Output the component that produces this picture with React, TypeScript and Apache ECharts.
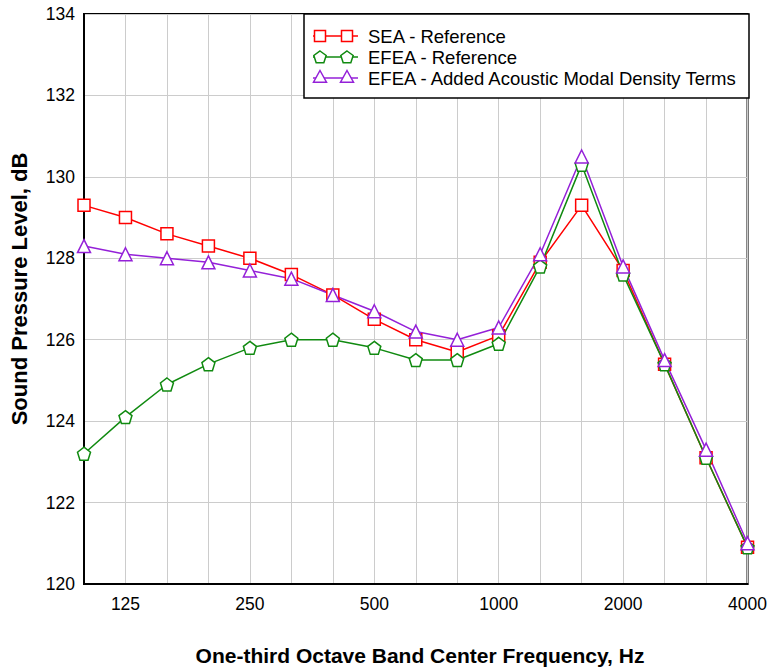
import React, { useEffect, useRef } from "react";
import * as echarts from "echarts";

const frequencies = ["100", "125", "160", "200", "250", "315", "400", "500", "630", "800", "1000", "1250", "1600", "2000", "2500", "3150", "4000"];
const labeledFrequencies = ["125", "250", "500", "1000", "2000", "4000"];
const seaReference = [129.3, 129.0, 128.6, 128.3, 128.0, 127.6, 127.1, 126.5, 126.0, 125.7, 126.1, 127.9, 129.3, 127.7, 125.4, 123.1, 120.9];
const efeaReference = [123.2, 124.1, 124.9, 125.4, 125.8, 126.0, 126.0, 125.8, 125.5, 125.5, 125.9, 127.8, 130.3, 127.6, 125.4, 123.1, 120.9];
const efeaAdded = [128.3, 128.1, 128.0, 127.9, 127.7, 127.5, 127.1, 126.7, 126.2, 126.0, 126.3, 128.1, 130.5, 127.8, 125.5, 123.3, 121.0];
const seriesNames = ["SEA - Reference", "EFEA - Reference", "EFEA - Added Acoustic Modal Density Terms"];

const RED = "#ff0000";
const GREEN = "#108a10";
const PURPLE = "#9420d8";
const FONT = "Liberation Sans, Arial, sans-serif";
const PENTAGON = "path://M0,-1L0.951,-0.309L0.588,0.809L-0.588,0.809L-0.951,-0.309Z";

function pentagonPoints(cx: number, cy: number, r: number) {
  const pts: number[][] = [];
  for (let i = 0; i < 5; i++) {
    const a = -Math.PI / 2 + (i * 2 * Math.PI) / 5;
    pts.push([cx + r * Math.cos(a), cy + r * Math.sin(a)]);
  }
  return pts;
}
function trianglePoints(cx: number, cy: number, r: number) {
  return [
    [cx, cy - r],
    [cx + r, cy + r * 0.8],
    [cx - r, cy + r * 0.8],
  ];
}

export default function App() {
  const ref = useRef<HTMLDivElement>(null);
  useEffect(() => {
    if (!ref.current) return;
    const chart = echarts.init(ref.current, undefined, { renderer: "svg" });

    const mk = (name: string, data: number[], color: string, symbol: string, size: number) => ({
      name,
      type: "line",
      data,
      symbol,
      symbolSize: size,
      showAllSymbol: true,
      lineStyle: { color, width: 1.5 },
      itemStyle: { color: "#ffffff", borderColor: color, borderWidth: 1.5 },
      emphasis: { disabled: true },
    });

    const legendX0 = 313;
    const legendX1 = 358;
    const rows = [36, 57, 78];
    const colors = [RED, GREEN, PURPLE];
    const legendGraphics: any[] = [
      {
        type: "rect",
        shape: { x: 304, y: 14, width: 445, height: 84 },
        style: { fill: "#ffffff", stroke: "#000000", lineWidth: 1.5 },
        z: 100,
      },
    ];
    rows.forEach((y, i) => {
      const c = colors[i];
      legendGraphics.push({
        type: "line",
        shape: { x1: legendX0, y1: y, x2: legendX1, y2: y },
        style: { stroke: c, lineWidth: 1.5 },
        z: 101,
      });
      [320, 347].forEach((cx) => {
        if (i === 0) {
          legendGraphics.push({
            type: "rect",
            shape: { x: cx - 5.5, y: y - 5.5, width: 11, height: 11 },
            style: { fill: "#ffffff", stroke: c, lineWidth: 1.5 },
            z: 102,
          });
        } else if (i === 1) {
          legendGraphics.push({
            type: "polygon",
            shape: { points: pentagonPoints(cx, y + 0.5, 6.5) },
            style: { fill: "#ffffff", stroke: c, lineWidth: 1.5 },
            z: 102,
          });
        } else {
          legendGraphics.push({
            type: "polygon",
            shape: { points: trianglePoints(cx, y - 1, 6.5) },
            style: { fill: "#ffffff", stroke: c, lineWidth: 1.5 },
            z: 102,
          });
        }
      });
      legendGraphics.push({
        type: "text",
        x: 368,
        y: y,
        style: {
          text: seriesNames[i],
          fill: "#000000",
          font: `18.5px ${FONT}`,
          textAlign: "left",
          textVerticalAlign: "middle",
        },
        z: 102,
      });
    });

    chart.setOption({
      animation: false,
      backgroundColor: "#ffffff",
      grid: {
        left: 84,
        right: 21,
        top: 14,
        bottom: 87,
        show: true,
        borderColor: "#000000",
        borderWidth: 2,
        backgroundColor: "transparent",
        containLabel: false,
      },
      xAxis: {
        type: "category",
        data: frequencies,
        boundaryGap: false,
        axisLine: { show: true, lineStyle: { color: "#000000", width: 2 } },
        axisTick: { show: false },
        axisLabel: {
          interval: (index: number, value: string) => labeledFrequencies.includes(value),
          color: "#000000",
          fontSize: 17.5,
          fontFamily: FONT,
          margin: 11,
        },
        splitLine: { show: true, interval: 0, lineStyle: { color: "#cccccc", width: 1 } },
      },
      yAxis: {
        type: "value",
        min: 120,
        max: 134,
        interval: 2,
        axisLine: { show: true, lineStyle: { color: "#000000", width: 2 } },
        axisTick: { show: false },
        axisLabel: { color: "#000000", fontSize: 17.5, fontFamily: FONT, margin: 9 },
        splitLine: { show: true, lineStyle: { color: "#cccccc", width: 1 } },
      },
      series: [
        mk(seriesNames[0], seaReference, RED, "rect", 12),
        mk(seriesNames[1], efeaReference, GREEN, PENTAGON, 13),
        mk(seriesNames[2], efeaAdded, PURPLE, "triangle", 13),
      ],
      graphic: [
        ...legendGraphics,
        {
          type: "text",
          x: 420,
          y: 655,
          style: {
            text: "One-third Octave Band Center Frequency, Hz",
            fill: "#000000",
            font: `bold 21px ${FONT}`,
            textAlign: "center",
            textVerticalAlign: "middle",
          },
        },
        {
          type: "text",
          x: 19.5,
          y: 289,
          rotation: Math.PI / 2,
          style: {
            text: "Sound Pressure Level, dB",
            fill: "#000000",
            font: `bold 22px ${FONT}`,
            textAlign: "center",
            textVerticalAlign: "middle",
          },
        },
      ],
    });
    return () => chart.dispose();
  }, []);
  return (
    <div
      ref={ref}
      style={{ position: "fixed", left: 0, top: 0, width: 770, height: 671, background: "#fff" }}
    />
  );
}
